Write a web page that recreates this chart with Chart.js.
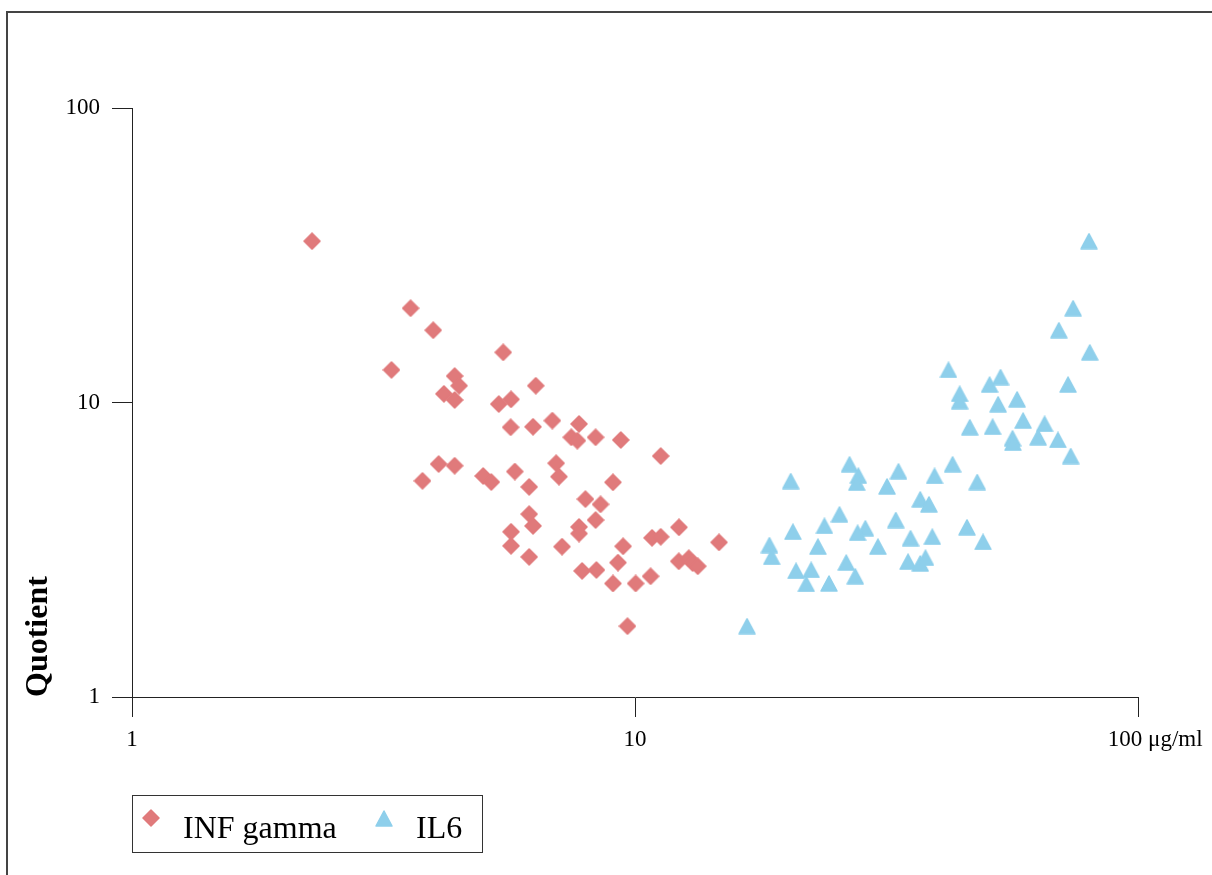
<!DOCTYPE html>
<html>
<head>
<meta charset="utf-8">
<script src="https://cdn.jsdelivr.net/npm/chart.js@4.4.1/dist/chart.umd.min.js"></script>
<style>
  body { margin: 0; background: #fff; }
  #wrap { position: relative; width: 1212px; height: 875px; }
  #frame {
    position: absolute; left: 6px; top: 11px; right: 0; bottom: 0;
    border-top: 2px solid #444; border-left: 2px solid #444;
  }
  #legend {
    position: absolute; left: 132px; top: 795px; width: 351px; height: 58px;
    box-sizing: border-box; border: 1px solid #333;
    font-family: "Liberation Serif", "Times New Roman", serif; font-size: 32px;
  }
  #legend canvas, #legend span { position: absolute; }
  #legend span { line-height: 1; top: 15px; color: #000; }
</style>
</head>
<body>
<div id="wrap">
  <div id="frame"></div>
  <canvas id="chart"></canvas>
  <div id="legend"></div>
</div>
<script>
// concentration (µg/ml) and quotient for each sample
const infX = [2.28, 3.58, 3.97, 5.47, 3.28, 4.38, 4.47, 4.17, 4.38, 5.36,
  5.67, 6.35, 5.66, 6.27, 6.85, 7.74, 7.47, 7.68, 8.35, 9.37,
  11.25, 4.07, 4.38, 3.78, 4.99, 5.18, 5.77, 6.16, 6.97, 7.06,
  9.04, 7.97, 8.54, 8.35, 6.16, 6.27, 5.67, 5.67, 6.16, 7.16,
  7.74, 7.74, 9.47, 9.25, 12.23, 10.81, 11.25, 14.69, 7.85, 8.38,
  9.04, 10.03, 10.74, 12.22, 12.79, 13.02, 13.33, 9.66];
const infY = [35.3, 20.9, 17.6, 14.8, 12.9, 12.3, 11.4, 10.7, 10.2, 9.88,
  10.25, 11.4, 8.24, 8.27, 8.68, 8.46, 7.62, 7.42, 7.62, 7.46,
  6.58, 6.18, 6.10, 5.42, 5.63, 5.37, 5.83, 5.17, 6.22, 5.60,
  5.36, 4.70, 4.51, 3.99, 4.18, 3.81, 3.64, 3.26, 2.99, 3.24,
  3.78, 3.59, 3.25, 2.86, 3.77, 3.47, 3.50, 3.35, 2.68, 2.70,
  2.43, 2.43, 2.57, 2.89, 2.96, 2.85, 2.78, 1.74];

const il6X = [79.9, 74.3, 69.6, 80.2, 42.0, 72.6, 44.2, 44.2, 50.7, 53.3,
  52.7, 57.5, 46.3, 51.4, 59.1, 65.2, 56.3, 56.4, 63.3, 69.3,
  73.5, 42.8, 33.4, 31.7, 39.4, 47.9, 36.9, 38.4, 33.0, 35.3,
  39.0, 45.7, 49.2, 34.9, 36.9, 37.8, 30.4, 26.7, 27.8, 27.6,
  28.7, 27.7, 27.4, 26.3, 25.5, 23.8, 23.1, 24.3, 22.4, 21.9,
  20.9, 20.6, 20.4, 18.5, 18.7, 16.7];
const il6Y = [35.3, 20.9, 17.6, 14.8, 12.9, 11.5, 10.7, 10.1, 11.5, 12.2,
  9.86, 10.25, 8.24, 8.27, 8.68, 8.46, 7.56, 7.30, 7.62, 7.46,
  6.58, 6.17, 5.84, 5.19, 5.63, 5.37, 4.69, 4.51, 3.99, 3.46,
  3.50, 3.77, 3.36, 2.88, 2.84, 2.97, 3.24, 6.17, 5.64, 5.34,
  3.74, 3.61, 2.57, 2.86, 4.17, 3.81, 3.24, 2.43, 2.70, 2.42,
  2.68, 3.64, 5.41, 3.28, 2.99, 1.74];

const seriesNames = ["INF gamma", "IL6"];

const xTicks = [1, 10, 100];
const xTickLabels = ["1", "10", "      100 μg/ml"];
const yTicks = [1, 10, 100];
const yTickLabels = ["1", "10", "100"];

const RED = "#E07A7B";
const BLUE = "#8ECFEB";
const serif = "'Liberation Serif', 'Times New Roman', serif";

// small canvases used as point markers
function diamondMarker(color) {
  const c = document.createElement("canvas");
  c.width = 18; c.height = 18;
  const g = c.getContext("2d");
  g.fillStyle = color; g.strokeStyle = color;
  g.lineJoin = "round"; g.lineWidth = 1.5;
  g.beginPath();
  g.moveTo(9, 1); g.lineTo(17, 9); g.lineTo(9, 17); g.lineTo(1, 9);
  g.closePath(); g.fill(); g.stroke();
  return c;
}

function triangleMarker(color) {
  const c = document.createElement("canvas");
  c.width = 18; c.height = 17;
  const g = c.getContext("2d");
  g.fillStyle = color; g.strokeStyle = color;
  g.lineJoin = "round"; g.lineWidth = 1.5;
  g.beginPath();
  g.moveTo(9, 1); g.lineTo(17, 16); g.lineTo(1, 16);
  g.closePath(); g.fill(); g.stroke();
  return c;
}

const toPoints = (xs, ys) => xs.map((x, i) => ({ x: x, y: ys[i] }));

const tickFont = { family: serif, size: 23 };

function axis(ticks, labels, extra) {
  return Object.assign({
    type: "logarithmic",
    min: 1,
    max: 100,
    afterBuildTicks: (scale) => {
      scale.ticks = ticks.map((v) => ({ value: v }));
    },
    ticks: {
      callback: (v, i) => labels[i],
      font: tickFont,
      color: "#000",
      autoSkip: false,
      maxRotation: 0,
    },
    grid: {
      drawOnChartArea: false,
      drawTicks: true,
      tickLength: 20,
      color: "#222",
      lineWidth: 1,
    },
    border: { display: true, color: "#222", width: 1 },
  }, extra);
}

const xAxis = axis(xTicks, xTickLabels, {
  afterFit: (scale) => { scale.height = 78; },
});
xAxis.ticks.padding = 9;

const yAxis = axis(yTicks, yTickLabels, {
  afterFit: (scale) => { scale.width = 132; },
  title: {
    display: true,
    text: "Quotient",
    align: "start",
    color: "#000",
    font: { family: serif, size: 32, weight: "bold" },
    padding: { top: 20, bottom: 0 },
  },
});
yAxis.ticks.padding = 12;

const chart = new Chart(document.getElementById("chart"), {
  type: "scatter",
  data: {
    datasets: [
      {
        label: seriesNames[0],
        data: toPoints(infX, infY),
        pointStyle: diamondMarker(RED),
        pointRadius: 9,
        backgroundColor: RED,
        borderColor: RED,
      },
      {
        label: seriesNames[1],
        data: toPoints(il6X, il6Y),
        pointStyle: triangleMarker(BLUE),
        pointRadius: 9,
        backgroundColor: BLUE,
        borderColor: BLUE,
      },
    ],
  },
  options: {
    responsive: true,
    maintainAspectRatio: false,
    animation: false,
    layout: { padding: { top: 108, right: 74, bottom: 100, left: 0 } },
    scales: { x: xAxis, y: yAxis },
    plugins: {
      legend: { display: false },
      tooltip: { enabled: false },
    },
  },
});

// boxed legend under the plot, built from the datasets
const legendBox = document.getElementById("legend");
const itemLeft = [18, 251];
chart.data.datasets.forEach((ds, i) => {
  const marker = ds.pointStyle;
  const m = document.createElement("canvas");
  m.width = marker.width; m.height = marker.height;
  m.getContext("2d").drawImage(marker, 0, 0);
  m.style.left = (itemLeft[i] - marker.width / 2) + "px";
  m.style.top = (22 - marker.height / 2) + "px";
  legendBox.appendChild(m);

  const label = document.createElement("span");
  label.textContent = ds.label;
  label.style.left = (itemLeft[i] + 32) + "px";
  legendBox.appendChild(label);
});
</script>
</body>
</html>
